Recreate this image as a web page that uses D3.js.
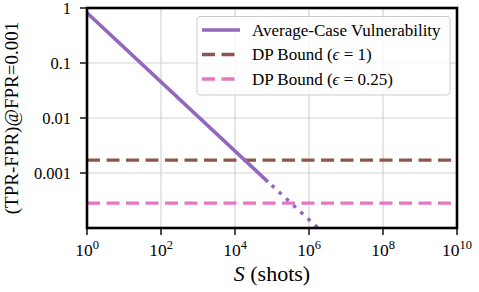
<!DOCTYPE html>
<html>
<head>
<meta charset="utf-8">
<script src="https://cdn.jsdelivr.net/npm/d3@7"></script>
</head>
<body style="margin:0">
<svg id="chart" width="479" height="292" font-family="Liberation Serif"></svg>
<script>
// data
var xTickExps = [0, 2, 4, 6, 8, 10];
var yTicks = [1, 0.1, 0.01, 0.001];
var yTickLabels = ["1", "0.1", "0.01", "0.001"];
var vulnSolid = [[1, 0.82], [7.8e4, 6.9e-4]];
var vulnDotted = [[7.8e4, 6.9e-4], [1e7, 3.4e-5]];
var dpBound1 = 1.718e-3;    // (e^1 - 1) * 0.001
var dpBound025 = 2.84e-4;   // (e^0.25 - 1) * 0.001
var legendLabels = ["Average-Case Vulnerability", "DP Bound (", "DP Bound ("];
var legendEps = [null, "1", "0.25"];

var purple = "#9467bd", brown = "#8c564b", pink = "#e377c2";

var W = 479, H = 292;
var m = {left: 87, right: 22, top: 8, bottom: 64};

var svg = d3.select("#chart");

var x = d3.scaleLog().domain([1, 1e10]).range([m.left, W - m.right]);
var y = d3.scaleLog().domain([1e-4, 1]).range([H - m.bottom, m.top]);

svg.append("clipPath").attr("id", "clip").append("rect")
    .attr("x", m.left).attr("y", m.top)
    .attr("width", W - m.left - m.right).attr("height", H - m.top - m.bottom);

// grid
var grid = svg.append("g");
grid.selectAll("line.gx").data(xTickExps).enter().append("line")
    .attr("x1", function (d) { return x(Math.pow(10, d)); })
    .attr("x2", function (d) { return x(Math.pow(10, d)); })
    .attr("y1", m.top).attr("y2", H - m.bottom)
    .attr("stroke", "#d3d3d3").attr("stroke-width", 1.2);
grid.selectAll("line.gy").data(yTicks).enter().append("line")
    .attr("y1", function (d) { return y(d); })
    .attr("y2", function (d) { return y(d); })
    .attr("x1", m.left).attr("x2", W - m.right)
    .attr("stroke", "#d3d3d3").attr("stroke-width", 1.2);

var line = d3.line().x(function (d) { return x(d[0]); }).y(function (d) { return y(d[1]); });
var plot = svg.append("g").attr("clip-path", "url(#clip)");

plot.append("path").datum([[1, dpBound1], [1e10, dpBound1]]).attr("d", line)
    .attr("fill", "none").attr("stroke", brown).attr("stroke-width", 3.3)
    .attr("stroke-dasharray", "13 6.5");
plot.append("path").datum([[1, dpBound025], [1e10, dpBound025]]).attr("d", line)
    .attr("fill", "none").attr("stroke", pink).attr("stroke-width", 3.3)
    .attr("stroke-dasharray", "13 6.5");
plot.append("path").datum(vulnSolid).attr("d", line)
    .attr("fill", "none").attr("stroke", purple).attr("stroke-width", 3.5);
plot.append("path").datum(vulnDotted).attr("d", line)
    .attr("fill", "none").attr("stroke", purple).attr("stroke-width", 3.5)
    .attr("stroke-dasharray", "3.5 6.3").attr("stroke-dashoffset", -5);

// axes frame
svg.append("rect").attr("x", m.left).attr("y", m.top)
    .attr("width", W - m.left - m.right).attr("height", H - m.top - m.bottom)
    .attr("fill", "none").attr("stroke", "#000").attr("stroke-width", 2.6);

// y ticks
var yt = svg.append("g");
yt.selectAll("line").data(yTicks).enter().append("line")
    .attr("x1", m.left - 7).attr("x2", m.left)
    .attr("y1", function (d) { return y(d); }).attr("y2", function (d) { return y(d); })
    .attr("stroke", "#000").attr("stroke-width", 1.4);
yt.selectAll("text").data(yTicks).enter().append("text")
    .attr("x", m.left - 16).attr("y", function (d) { return y(d); })
    .attr("dy", "0.35em").attr("text-anchor", "end").attr("font-size", 16.5)
    .text(function (d, i) { return yTickLabels[i]; });

// x ticks
var xt = svg.append("g");
xt.selectAll("line").data(xTickExps).enter().append("line")
    .attr("x1", function (d) { return x(Math.pow(10, d)); })
    .attr("x2", function (d) { return x(Math.pow(10, d)); })
    .attr("y1", H - m.bottom).attr("y2", H - m.bottom + 7)
    .attr("stroke", "#000").attr("stroke-width", 1.4);
var xl = xt.selectAll("text").data(xTickExps).enter().append("text")
    .attr("x", function (d) { return x(Math.pow(10, d)); })
    .attr("y", H - m.bottom + 28).attr("text-anchor", "middle").attr("font-size", 17.5);
xl.append("tspan").text("10");
xl.append("tspan").attr("dy", -7).attr("font-size", 12.5).text(function (d) { return d; });

// axis labels
svg.append("text")
    .attr("transform", "translate(18," + ((m.top + H - m.bottom) / 2) + ") rotate(-90)")
    .attr("text-anchor", "middle").attr("font-size", 19)
    .text("(TPR-FPR)@FPR=0.001");
var xlab = svg.append("text")
    .attr("x", (m.left + W - m.right) / 2).attr("y", 281)
    .attr("text-anchor", "middle").attr("font-size", 22);
xlab.append("tspan").attr("font-style", "italic").text("S");
xlab.append("tspan").text(" (shots)");

// legend
var lg = svg.append("g");
lg.append("rect").attr("x", 197).attr("y", 16.5).attr("width", 253).attr("height", 78.5)
    .attr("rx", 3).attr("fill", "#fff").attr("fill-opacity", 0.8)
    .attr("stroke", "#cccccc").attr("stroke-width", 1);
var entries = [
    {c: purple, dash: null},
    {c: brown, dash: "13 6.5"},
    {c: pink, dash: "13 6.5"}
];
var le = lg.selectAll("g").data(entries).enter().append("g")
    .attr("transform", function (d, i) { return "translate(0," + (30 + i * 24.5) + ")"; });
le.append("line").attr("x1", 202).attr("x2", 240).attr("y1", 0).attr("y2", 0)
    .attr("stroke", function (d) { return d.c; }).attr("stroke-width", 3.3)
    .attr("stroke-dasharray", function (d) { return d.dash; });
var lt = le.append("text").attr("x", 252).attr("dy", "0.35em").attr("font-size", 17);
lt.append("tspan").text(function (d, i) { return legendLabels[i]; });
lt.filter(function (d, i) { return legendEps[i]; }).append("tspan").attr("font-style", "italic").text("\u03f5");
lt.filter(function (d, i) { return legendEps[i]; }).append("tspan")
    .text(function (d) { return " = " + legendEps[entries.indexOf(d)] + ")"; });
</script>
</body>
</html>
